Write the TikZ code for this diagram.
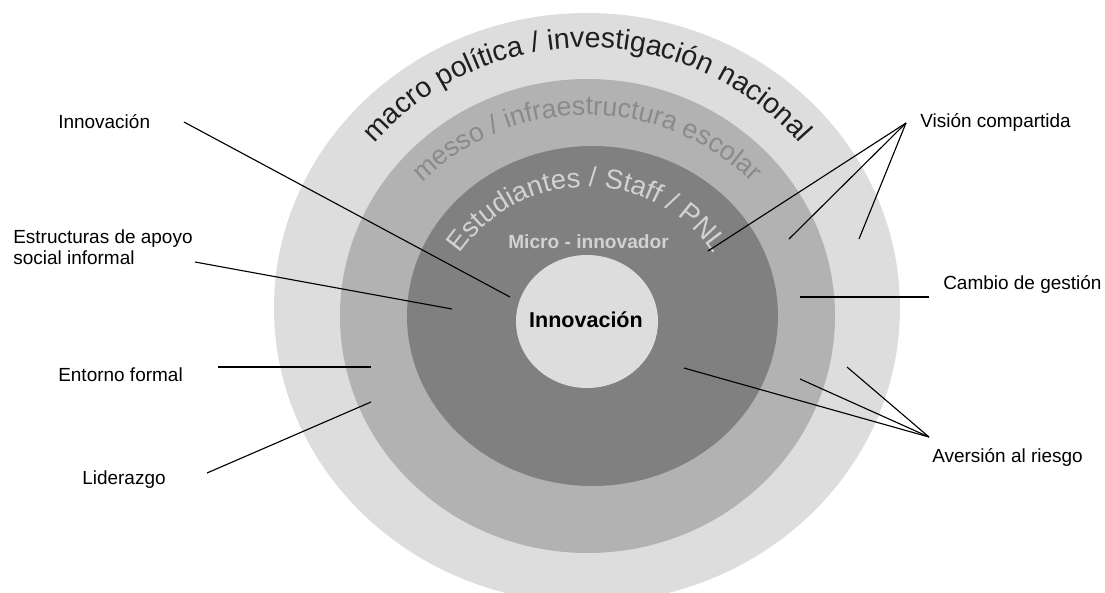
\documentclass[tikz,border=0pt]{standalone}
\usepackage{fontspec}
\setmainfont{Liberation Sans}
\usetikzlibrary{decorations.text}
\definecolor{ringlight}{HTML}{DDDDDD}
\definecolor{ringmid}{HTML}{B2B2B2}
\definecolor{ringdark}{HTML}{808080}
\definecolor{messotext}{HTML}{8A8A8A}
\definecolor{microtext}{HTML}{D2D2D2}
\tikzset{
  lbl/.style={anchor=west,inner sep=0pt,font=\fontsize{13.5}{14.9}\selectfont},
  pointer/.style={line width=0.8pt}
}
\begin{document}
\begin{tikzpicture}
\useasboundingbox (-14.675,-6.9) rectangle (12.95,7.9);
% rings
\fill[ringlight] (0,0.2) ellipse (7.825 and 7.375);
\fill[ringmid] (0.0125,0) ellipse (6.1875 and 5.925);
\fill[ringdark] (0.1375,0) ellipse (4.6375 and 4.25);
\fill[ringlight] (0,-0.1375) ellipse (1.775 and 1.6625);
% ring names
\path[decorate,decoration={text along path,text align=center,text color=black!88,
  text={|\fontsize{20.3}{24}\selectfont|macro política / investigación nacional}}]
  (-7.085,-0.375) arc[start angle=180,end angle=0,radius=7.085];
\path[decorate,decoration={text along path,text align=center,text color=messotext,
  text={|\fontsize{19}{23}\selectfont|messo / infraestructura escolar}}]
  (-5.875,-0.85) arc[start angle=180,end angle=0,radius=5.875];
\path[decorate,decoration={text along path,text align=center,text color=microtext,
  text={|\fontsize{19.5}{23}\selectfont|Estudiantes / Staff / PNL}}]
  (-3.85,-0.625) arc[start angle=180,end angle=0,radius=3.85];
\node[font=\bfseries\fontsize{13.6}{16}\selectfont,text=microtext] (micro) at (0.0375,1.85) {Micro - innovador};
\node[font=\bfseries\fontsize{15.3}{18}\selectfont] (core) at (-0.025,-0.1) {Innovación};
% labels
\node[lbl] (innov) at (-13.225,4.85) {Innovación};
\node[lbl,align=left] (apoyo) at (-14.35,1.7125) {Estructuras de apoyo\\social informal};
\node[lbl] (entorno) at (-13.225,-1.475) {Entorno formal};
\node[lbl] (lider) at (-12.625,-4.1) {Liderazgo};
\node[lbl] (vision) at (8.325,4.85) {Visión compartida};
\node[lbl] (cambio) at (8.9,0.8) {Cambio de gestión};
\node[lbl] (aversion) at (8.625,-3.525) {Aversión al riesgo};
% pointer ends
\coordinate (innov-a) at (-10.075,4.85);
\coordinate (innov-b) at (-1.925,0.475);
\coordinate (apoyo-a) at (-9.8,1.35);
\coordinate (apoyo-b) at (-3.375,0.175);
\coordinate (entorno-a) at (-9.225,-1.275);
\coordinate (entorno-b) at (-5.4,-1.275);
\coordinate (lider-a) at (-9.5,-3.925);
\coordinate (lider-b) at (-5.4,-2.15);
\coordinate (cambio-a) at (8.55,0.475);
\coordinate (cambio-b) at (5.325,0.475);
\coordinate (vision-apex) at (7.975,4.825);
\coordinate (v1) at (3.025,1.625);
\coordinate (v2) at (5.05,1.925);
\coordinate (v3) at (6.8,1.925);
\coordinate (aversion-apex) at (8.55,-3.025);
\coordinate (r1) at (6.5,-1.275);
\coordinate (r2) at (5.325,-1.575);
\coordinate (r3) at (2.425,-1.3);
\draw[pointer] (innov-a)--(innov-b);
\draw[pointer] (apoyo-a)--(apoyo-b);
\draw[pointer] (entorno-a)--(entorno-b);
\draw[pointer] (lider-a)--(lider-b);
\draw[pointer] (cambio-a)--(cambio-b);
\foreach \p in {v1,v2,v3}
  \draw[pointer] (vision-apex)--(\p);
\foreach \p in {r1,r2,r3}
  \draw[pointer] (aversion-apex)--(\p);
\end{tikzpicture}
\end{document}
